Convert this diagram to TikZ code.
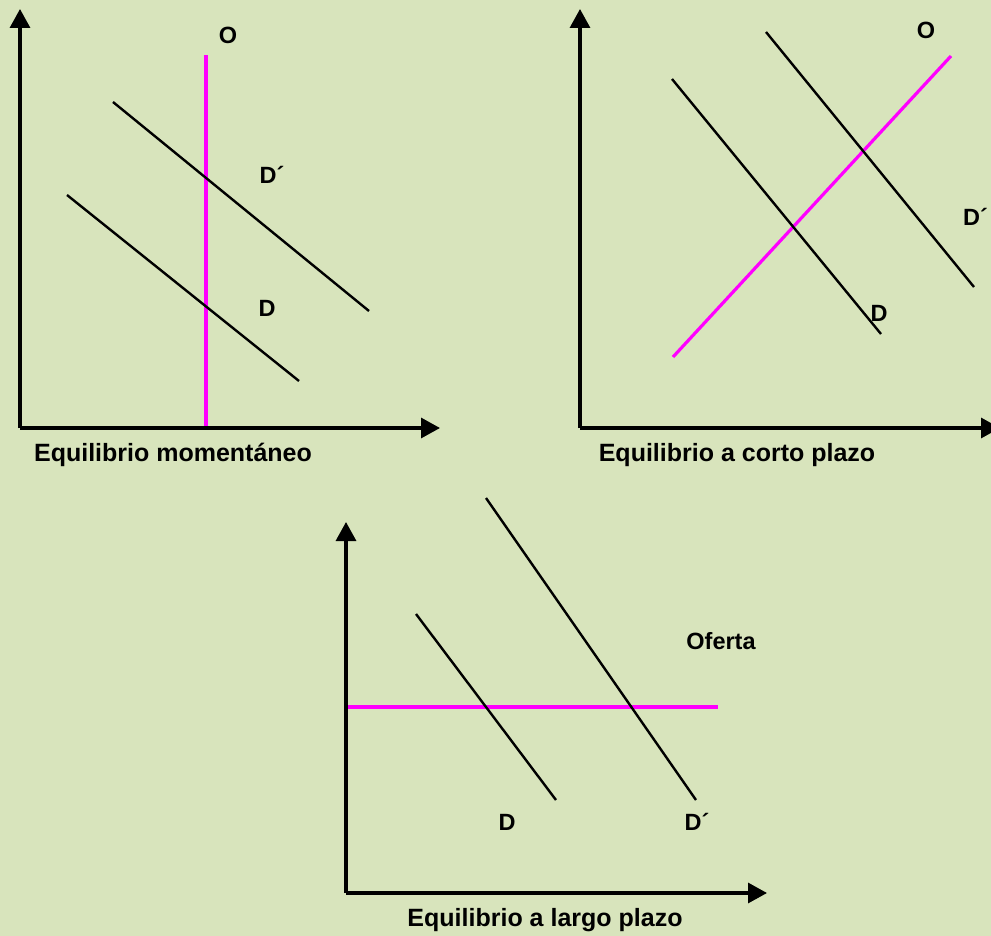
\documentclass[tikz,border=0pt]{standalone}
\usepackage{fontspec}
\setmainfont{Liberation Sans}
\usetikzlibrary{arrows.meta}
\definecolor{bg}{HTML}{D8E4BC}
\definecolor{mag}{HTML}{FF00FF}
\begin{document}
\begin{tikzpicture}[x=1pt,y=-1pt,
  axis/.style={line width=3.2pt,-{Triangle[length=19pt,width=20pt]}},
  dem/.style={line width=2.4pt,black},
  sup/.style={line width=3.2pt,mag},
  lab/.style={font=\fontsize{23.5}{27}\selectfont\bfseries,inner sep=0pt},
  ttl/.style={font=\fontsize{25}{29}\selectfont\bfseries,inner sep=0pt}]
\fill[bg] (0,0) rectangle (991,936);
\useasboundingbox (0,0) rectangle (991,936);
% ---------- panel 1
\coordinate (o1) at (20,428);
\coordinate (y1) at (20,9);
\coordinate (x1) at (440,428);
\coordinate (s1a) at (206,428);
\coordinate (s1b) at (206,55);
\coordinate (dp1a) at (113,102);
\coordinate (dp1b) at (369,311);
\coordinate (d1a) at (67,195);
\coordinate (d1b) at (299,381);
\draw[sup] (s1a) -- (s1b);
\draw[dem] (dp1a) -- (dp1b);
\draw[dem] (d1a) -- (d1b);
\draw[axis] (o1) -- (y1);
\draw[axis] (o1) -- (x1);
\node[lab] (O1) at (228,35) {O};
\node[lab] (Dp1) at (272,175) {D´};
\node[lab] (D1) at (267,308) {D};
\node[ttl] (t1) at (173,455) {Equilibrio momentáneo};
% ---------- panel 2
\coordinate (o2) at (580,428);
\coordinate (y2) at (580,9);
\coordinate (x2) at (1000,428);
\coordinate (s2a) at (673,357);
\coordinate (s2b) at (951,56);
\coordinate (d2a) at (672,79);
\coordinate (d2b) at (881,334);
\coordinate (dp2a) at (766,32);
\coordinate (dp2b) at (974,287);
\draw[sup] (s2a) -- (s2b);
\draw[dem] (d2a) -- (d2b);
\draw[dem] (dp2a) -- (dp2b);
\draw[axis] (o2) -- (y2);
\draw[axis] (o2) -- (x2);
\node[lab] (O2) at (926,30) {O};
\node[lab,anchor=west] (Dp2) at (963,217) {D´};
\node[lab] (D2) at (879,313) {D};
\node[ttl] (t2) at (737,455) {Equilibrio a corto plazo};
% ---------- panel 3
\coordinate (o3) at (346,893);
\coordinate (y3) at (346,522);
\coordinate (x3) at (767,893);
\coordinate (s3a) at (346,707);
\coordinate (s3b) at (718,707);
\coordinate (d3a) at (416,614);
\coordinate (d3b) at (556,800);
\coordinate (dp3a) at (486,498);
\coordinate (dp3b) at (696,800);
\draw[sup] (s3a) -- (s3b);
\draw[dem] (d3a) -- (d3b);
\draw[dem] (dp3a) -- (dp3b);
\draw[axis] (o3) -- (y3);
\draw[axis] (o3) -- (x3);
\node[lab] (Of) at (721,641) {Oferta};
\node[lab] (D3) at (507,822) {D};
\node[lab] (Dp3) at (697,822) {D´};
\node[ttl] (t3) at (545,920) {Equilibrio a largo plazo};
\end{tikzpicture}
\end{document}
